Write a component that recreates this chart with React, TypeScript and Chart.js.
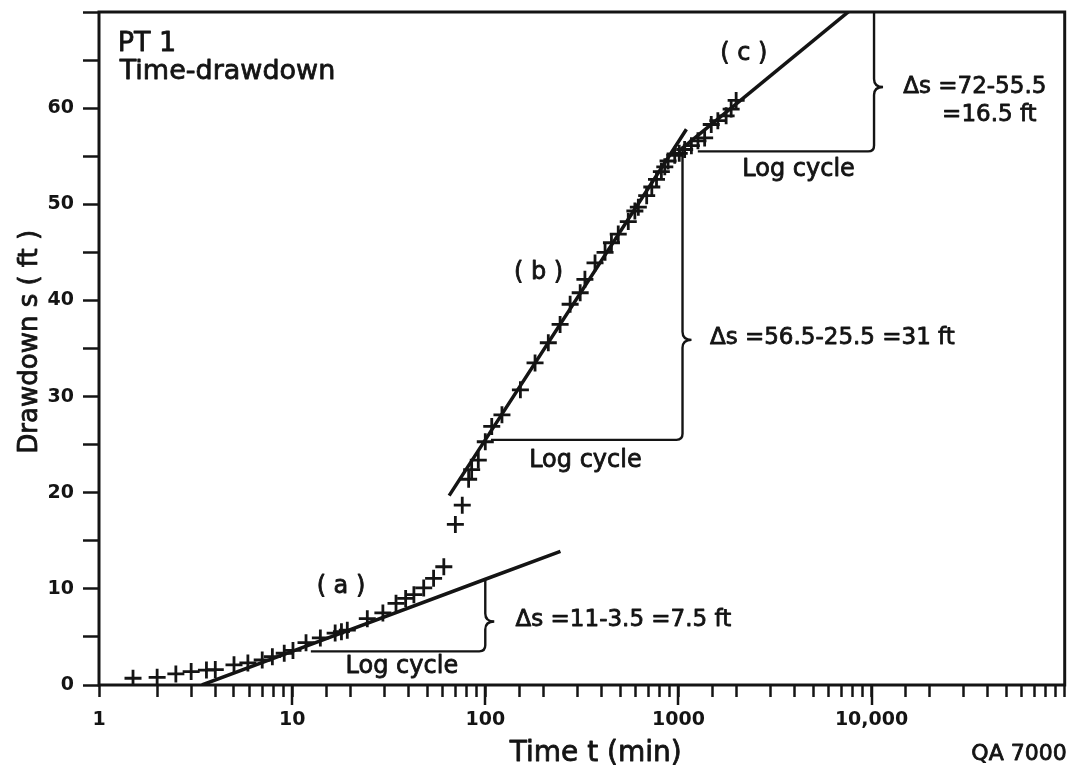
import React, { useEffect, useRef } from 'react';
import { Chart, registerables } from 'chart.js';

Chart.register(...registerables);

const INK = '#141414';
const FONT = '"DejaVu Sans", sans-serif';

// Observed drawdown at pumping test PT 1
const timeMin = [1.5, 2.0, 2.5, 3.0, 3.6, 4.0, 5.0, 5.9, 7.0, 7.9, 9.1, 10.1, 11.8, 14.0, 16.7, 18.0, 19.3, 24.5, 29.5, 34.5, 38.7, 42.7, 48, 54, 61, 70, 76, 82, 85, 92, 100, 108, 122, 152, 181, 212, 244, 275, 310, 328, 370, 417, 450, 488, 550, 595, 620, 685, 728, 770, 816, 850, 884, 957, 1010, 1077, 1167, 1262, 1367, 1479, 1600, 1766, 1875, 1990];
const drawdownFt = [0.7, 0.8, 1.15, 1.4, 1.55, 1.6, 2.1, 2.3, 2.6, 2.95, 3.3, 3.6, 4.4, 4.9, 5.4, 5.55, 5.7, 6.9, 7.5, 8.5, 9.0, 9.4, 10.1, 11.1, 12.3, 16.7, 18.7, 21.4, 22.4, 23.4, 25.3, 26.9, 28.1, 30.7, 33.5, 35.6, 37.5, 39.6, 40.8, 42.2, 43.9, 45.0, 46.0, 46.9, 48.2, 49.3, 49.7, 50.9, 51.8, 52.6, 53.4, 53.9, 54.5, 55.1, 55.3, 55.7, 56.1, 56.6, 56.9, 58.3, 58.7, 59.2, 59.9, 60.8];

// Straight-line fits (a), (b), (c) through the log-cycle values
const fitATime = [3.41, 10, 100, 245];
const fitADrawdown = [0, 3.5, 11, 13.9];
const fitBTime = [65, 100, 1000, 1100];
const fitBDrawdown = [19.7, 25.5, 56.5, 57.8];
const fitCTime = [1000, 10000];
const fitCDrawdown = [55.5, 72];

// Axis ticks
const yLabelValues = [0, 10, 20, 30, 40, 50, 60];
const xLabelValues = [1, 10, 100, 1000, 10000];
const xLabelTexts = ['1', '10', '100', '1000', '10,000'];
const decadeTimes = [10, 100, 1000, 10000];

// Slope brackets: log-cycle run and Δs rise
const bracketFrom = [12.5, 107, 1260];
const bracketTo = [100, 1050, 10300];
const bracketBase = [3.5, 25.5, 55.5];
const bracketTop = [11, 56, 72];
const bracketTip = [6.6, 35.9, 62.2];

type Note = { text: string; t: number; s: number; align: CanvasTextAlign; base: CanvasTextBaseline; size: number };
const notes: Note[] = [
  { text: 'PT 1', t: 1.25, s: 65.9, align: 'left', base: 'alphabetic', size: 27 },
  { text: 'Time-drawdown', t: 1.28, s: 63.0, align: 'left', base: 'alphabetic', size: 27 },
  { text: '( a )', t: 17.9, s: 10.2, align: 'center', base: 'middle', size: 24 },
  { text: '( b )', t: 188.6, s: 42.9, align: 'center', base: 'middle', size: 24 },
  { text: '( c )', t: 2181, s: 65.7, align: 'center', base: 'middle', size: 24 },
  { text: 'Δs =11-3.5 =7.5 ft', t: 143.5, s: 6.77, align: 'left', base: 'middle', size: 23 },
  { text: 'Log cycle', t: 37, s: 1.25, align: 'center', base: 'alphabetic', size: 24 },
  { text: 'Log cycle', t: 330, s: 22.7, align: 'center', base: 'alphabetic', size: 24 },
  { text: 'Δs =56.5-25.5 =31 ft', t: 1456, s: 36.1, align: 'left', base: 'middle', size: 23 },
  { text: 'Log cycle', t: 4190, s: 52.9, align: 'center', base: 'alphabetic', size: 24 },
  { text: 'Δs =72-55.5', t: 14590, s: 62.2, align: 'left', base: 'middle', size: 23 },
  { text: '=16.5 ft', t: 23190, s: 59.3, align: 'left', base: 'middle', size: 23 },
];

const pairs = (xs: number[], ys: number[]) => xs.map((x, i) => ({ x, y: ys[i] }));

// lettering drawn with a thin outline for a pen-weight look
function letter(ctx: CanvasRenderingContext2D, text: string, x: number, y: number) {
  ctx.fillText(text, x, y);
  ctx.strokeText(text, x, y);
}

const decorPlugin = {
  id: 'decor',
  afterDraw(chart: any) {
    const { ctx, chartArea: a } = chart;
    const xs = chart.scales.x;
    const ys = chart.scales.y;
    const px = (t: number) => xs.getPixelForValue(t);
    const py = (s: number) => ys.getPixelForValue(s);
    ctx.save();
    ctx.strokeStyle = INK;
    ctx.fillStyle = INK;

    // plot frame
    ctx.lineWidth = 3;
    ctx.strokeRect(a.left, a.top, a.right - a.left, a.bottom - a.top);

    // longer ticks at each decade
    ctx.lineWidth = 2.5;
    decadeTimes.forEach((t) => {
      const x = Math.round(px(t));
      ctx.beginPath();
      ctx.moveTo(x, a.bottom);
      ctx.lineTo(x, a.bottom + 20);
      ctx.stroke();
    });

    // slope brackets
    ctx.save();
    ctx.beginPath();
    ctx.rect(a.left, a.top, a.right - a.left, a.bottom - a.top);
    ctx.clip();
    ctx.lineWidth = 2.4;
    ctx.lineJoin = 'round';
    bracketFrom.forEach((from, i) => {
      const x0 = px(from);
      const x1 = px(bracketTo[i]);
      const yb = py(bracketBase[i]);
      const yt = py(bracketTop[i]);
      const ym = py(bracketTip[i]);
      const r = 6;
      ctx.beginPath();
      ctx.moveTo(x0, yb);
      ctx.lineTo(x1 - r, yb);
      ctx.quadraticCurveTo(x1, yb, x1, yb - r);
      ctx.lineTo(x1, ym + 8);
      ctx.quadraticCurveTo(x1, ym, x1 + 9, ym);
      ctx.moveTo(x1 + 9, ym);
      ctx.quadraticCurveTo(x1, ym, x1, ym - 8);
      ctx.lineTo(x1, yt);
      ctx.stroke();
    });
    ctx.restore();

    // notes
    ctx.lineWidth = 0.8;
    ctx.lineJoin = 'round';
    notes.forEach((n) => {
      ctx.font = `${n.size}px ${FONT}`;
      ctx.textAlign = n.align;
      ctx.textBaseline = n.base;
      letter(ctx, n.text, px(n.t), py(n.s));
    });

    // axis titles
    ctx.font = `28px ${FONT}`;
    ctx.textAlign = 'center';
    ctx.textBaseline = 'alphabetic';
    letter(ctx, 'Time t (min)', px(373), chart.height - 7);

    ctx.save();
    ctx.font = `26px ${FONT}`;
    ctx.translate(37, py(35.7));
    ctx.rotate(-Math.PI / 2);
    letter(ctx, 'Drawdown s ( ft )', 0, 0);
    ctx.restore();

    ctx.font = `22px ${FONT}`;
    ctx.textAlign = 'right';
    letter(ctx, 'QA 7000', a.right + 2, chart.height - 8);

    ctx.restore();
  },
};

export default function App() {
  const ref = useRef<HTMLCanvasElement>(null);

  useEffect(() => {
    document.body.style.margin = '0';
    const canvas = ref.current;
    if (!canvas) return;
    const lineStyle = { showLine: true, pointRadius: 0, borderColor: INK, borderWidth: 3.5, fill: false };
    const chart = new Chart(canvas, {
      type: 'scatter',
      data: {
        datasets: [
          {
            label: 'Drawdown',
            data: pairs(timeMin, drawdownFt),
            pointStyle: 'cross',
            pointRadius: 8.5,
            borderColor: INK,
            borderWidth: 2.8,
          },
          { label: '(a)', data: pairs(fitATime, fitADrawdown), ...lineStyle },
          { label: '(b)', data: pairs(fitBTime, fitBDrawdown), ...lineStyle },
          { label: '(c)', data: pairs(fitCTime, fitCDrawdown), ...lineStyle },
        ],
      } as any,
      options: {
        responsive: false,
        animation: false,
        devicePixelRatio: 1,
        layout: { padding: { top: 12, right: 4, left: 0, bottom: 0 } },
        plugins: { legend: { display: false }, tooltip: { enabled: false } },
        events: [],
        scales: {
          x: {
            type: 'logarithmic',
            min: 1,
            max: 100000,
            border: { display: false },
            grid: { drawOnChartArea: false, drawTicks: true, tickLength: 12, tickColor: INK, tickWidth: 2.5 },
            ticks: {
              autoSkip: false,
              maxRotation: 0,
              minRotation: 0,
              padding: 12,
              color: INK,
              font: { family: FONT, size: 19, weight: 'bold' },
              callback: (v: any) => {
                const i = xLabelValues.indexOf(Number(v));
                return i >= 0 ? xLabelTexts[i] : '';
              },
            },
            afterFit: (s: any) => {
              s.height = 83;
              s.paddingLeft = 0;
              s.paddingRight = 0;
            },
          },
          y: {
            type: 'linear',
            min: 0,
            max: 70,
            border: { display: false },
            grid: { drawOnChartArea: false, drawTicks: true, tickLength: 16, tickColor: INK, tickWidth: 2.5 },
            ticks: {
              stepSize: 5,
              padding: 9,
              color: INK,
              font: { family: FONT, size: 19, weight: 'bold' },
              callback: (v: any) => (yLabelValues.includes(Number(v)) ? String(v) : ''),
            },
            afterFit: (s: any) => {
              s.width = 99;
              s.paddingTop = 0;
              s.paddingBottom = 0;
            },
          },
        },
      } as any,
      plugins: [decorPlugin],
    });
    return () => chart.destroy();
  }, []);

  return <canvas ref={ref} width={1076} height={768} style={{ display: 'block', background: '#fff' }} />;
}
